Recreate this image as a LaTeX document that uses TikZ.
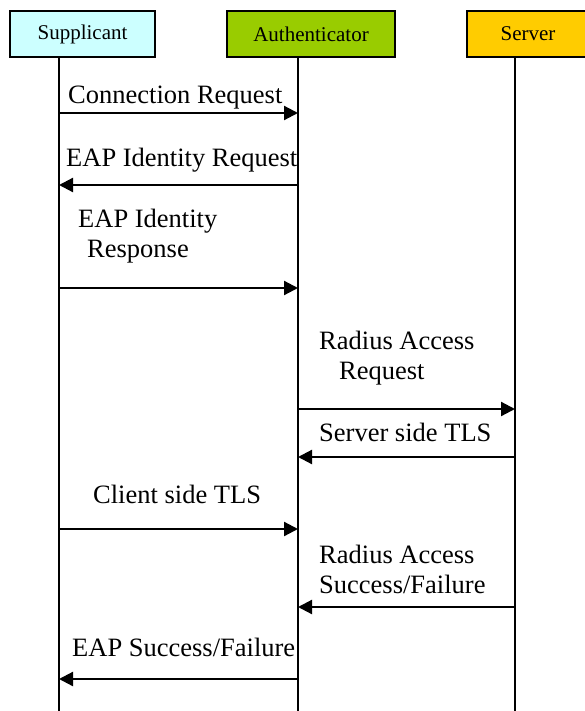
\documentclass[tikz,border=0pt]{standalone}
\usepackage{fontspec}
\setmainfont{Liberation Serif}
\usetikzlibrary{arrows.meta}
\usetikzlibrary{calc}
\definecolor{supCyan}{HTML}{CCFFFF}
\definecolor{authGreen}{HTML}{99CC00}
\definecolor{servYellow}{HTML}{FFCC00}
\tikzstyle{party} = [rectangle, draw=black, line width=2pt, minimum height=46pt, inner sep=0pt, font=\fontsize{21}{25}\selectfont]
\tikzstyle{lifeline} = [line width=2pt]
\tikzstyle{msg} = [-{Triangle[length=14pt,width=14pt]}, line width=2.2pt]
\tikzstyle{msglabel} = [anchor=base west, inner sep=0pt, align=left, font=\fontsize{26.5}{30}\selectfont]
\newcommand{\indentR}{9pt}
\newcommand{\bigindentR}{20pt}

\begin{document}
\begin{tikzpicture}[x=1pt,y=-1pt]
  \useasboundingbox (0,0) rectangle (584,711);

  % Parties
  \node [party, fill=supCyan, minimum width=145pt] (supplicant) at (82.5,34) {Supplicant};
  \node [party, fill=authGreen, minimum width=168pt] (authenticator) at (311,34) {Authenticator};
  \node [party, fill=servYellow, minimum width=122pt] (server) at (528,34) {Server};

  % Life lines
  \coordinate (supLine) at (59,0);
  \coordinate (authLine) at (298,0);
  \coordinate (servLine) at (515,0);
  \coordinate (bottom) at (0,711);
  \draw [lifeline] (supLine |- supplicant.south) -- (supLine |- bottom);
  \draw [lifeline] (authLine |- authenticator.south) -- (authLine |- bottom);
  \draw [lifeline] (servLine |- server.south) -- (servLine |- bottom);

  % Message rows
  \coordinate (connRow) at (0,113);
  \coordinate (idReqRow) at (0,185);
  \coordinate (idRespRow) at (0,288);
  \coordinate (radReqRow) at (0,409);
  \coordinate (servTlsRow) at (0,457);
  \coordinate (clientTlsRow) at (0,529);
  \coordinate (radResRow) at (0,607);
  \coordinate (eapResRow) at (0,679);

  % Connection Request
  \draw [msg] (connRow -| supLine) -- (connRow -| authLine);
  \node [msglabel] (connReq) at (68,104) {Connection Request};

  % EAP Identity Request
  \draw [msg] (idReqRow -| authLine) -- (idReqRow -| supLine);
  \node [msglabel] (idReq) at (66,167) {EAP Identity Request};

  % EAP Identity Response (base = last line)
  \draw [msg] (idRespRow -| supLine) -- (idRespRow -| authLine);
  \node [msglabel] (idResp) at (78,257) {EAP Identity\\\hspace*{\indentR}Response};

  % Radius Access Request
  \draw [msg] (radReqRow -| authLine) -- (radReqRow -| servLine);
  \node [msglabel] (radReq) at (319,379) {Radius Access\\\hspace*{\bigindentR}Request};

  % Server side TLS
  \draw [msg] (servTlsRow -| servLine) -- (servTlsRow -| authLine);
  \node [msglabel] (servTls) at (319,441) {Server side TLS};

  % Client side TLS
  \draw [msg] (clientTlsRow -| supLine) -- (clientTlsRow -| authLine);
  \node [msglabel] (clientTls) at (93,503) {Client side TLS};

  % Radius Access Success/Failure
  \draw [msg] (radResRow -| servLine) -- (radResRow -| authLine);
  \node [msglabel] (radRes) at (319,593) {Radius Access\\Success/Failure};

  % EAP Success/Failure
  \draw [msg] (eapResRow -| authLine) -- (eapResRow -| supLine);
  \node [msglabel] (eapRes) at (72,656) {EAP Success/Failure};

\end{tikzpicture}
\end{document}
